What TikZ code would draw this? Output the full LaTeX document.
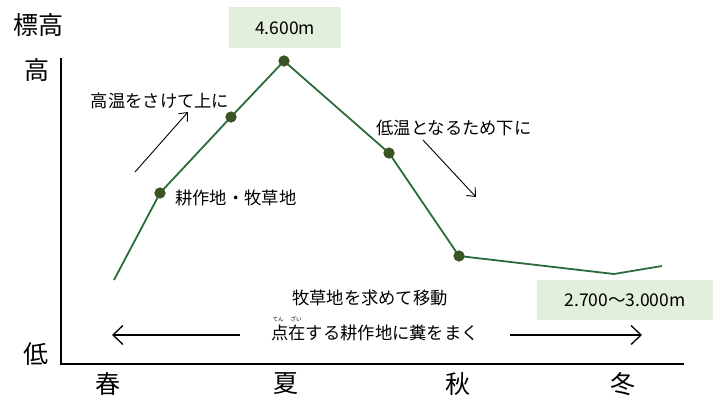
\documentclass[tikz,border=0pt]{standalone}
\usepackage{fontspec}
\setmainfont{Noto Sans CJK JP}
\usetikzlibrary{arrows.meta}
\definecolor{linegreen}{HTML}{2B6B3A}
\definecolor{dotgreen}{HTML}{3A5424}
\definecolor{boxgreen}{HTML}{E2EFDA}

\begin{document}
\begin{tikzpicture}[x=1pt,y=-1pt,
   dot/.style={circle,fill=dotgreen,inner sep=0pt,minimum size=11pt},
   hbox/.style={fill=boxgreen,inner sep=0pt,font=\fontsize{17.5}{17.5}\selectfont},
   big/.style={font=\fontsize{25}{25}\selectfont,inner sep=0pt},
   lbl/.style={font=\fontsize{17.3}{17.3}\selectfont,inner sep=1pt},
   ruby/.style={font=\fontsize{5.5}{5.5}\selectfont,inner sep=0pt},
   thinarr/.style={-{Straight Barb[length=7pt,width=12pt]},line width=0.9pt},
   widearr/.style={-{Straight Barb[length=10pt,width=19pt]},line width=1.3pt}]
   \useasboundingbox (0,0) rectangle (720,396);

   % axes
   \coordinate (top) at (61,58);
   \coordinate (origin) at (61,364);
   \coordinate (right) at (684,364);
   \draw[line width=1.6pt] (top) -- (origin) -- (right);
   \node[big] (ylabel) at (38,25) {標高};
   \node[big] (high) at (37,70) {高};
   \node[big] (low) at (36,354) {低};
   \node[big] (spring) at (108,384) {春};
   \node[big] (summer) at (286,384) {夏};
   \node[big] (autumn) at (458,384) {秋};
   \node[big] (winter) at (623,384) {冬};

   % altitude line
   \coordinate (start) at (114,280);
   \node[dot] (p1) at (160,193) {};
   \node[dot] (p2) at (231,117) {};
   \node[dot] (p3) at (284,61) {};
   \node[dot] (p4) at (389,153) {};
   \node[dot] (p5) at (459,256) {};
   \coordinate (dip) at (614,274);
   \coordinate (last) at (662,266);
   \draw[linegreen,line width=1.8pt] (start) -- (p1.center) -- (p2.center) -- (p3.center)
      -- (p4.center) -- (p5.center) -- (dip) -- (last);
   \foreach \p in {p1,p2,p3,p4,p5}
      \node[dot] at (\p) {};

   % heights
   \node[hbox,minimum width=112pt,minimum height=41pt] (peak) at (285,28) {4.600m};
   \node[hbox,minimum width=176pt,minimum height=40pt] (winterbox) at (625,300) {2.700～3.000m};

   % texts and arrows
   \node[lbl] (up) at (160,101) {高温をさけて上に};
   \coordinate (upA) at (135,172);
   \coordinate (upB) at (188,112);
   \draw[thinarr] (upA) -- (upB);
   \node[lbl] (down) at (454,128) {低温となるため下に};
   \coordinate (downA) at (423,140);
   \coordinate (downB) at (476,197);
   \draw[thinarr] (downA) -- (downB);
   \node[lbl,anchor=west] (fields) at (174,198) {耕作地・牧草地};
   \node[lbl] (move) at (370,298) {牧草地を求めて移動};
   \node[lbl] (dung) at (375,333) {点在する耕作地に糞をまく};
   \node[ruby] (ten) at (278,319) {てん};
   \node[ruby] (zai) at (296,319) {ざい};
   \coordinate (leftA) at (240,335);
   \coordinate (leftB) at (112,335);
   \coordinate (rightA) at (510,335);
   \coordinate (rightB) at (642,335);
   \draw[widearr] (leftA) -- (leftB);
   \draw[widearr] (rightA) -- (rightB);
\end{tikzpicture}
\end{document}
